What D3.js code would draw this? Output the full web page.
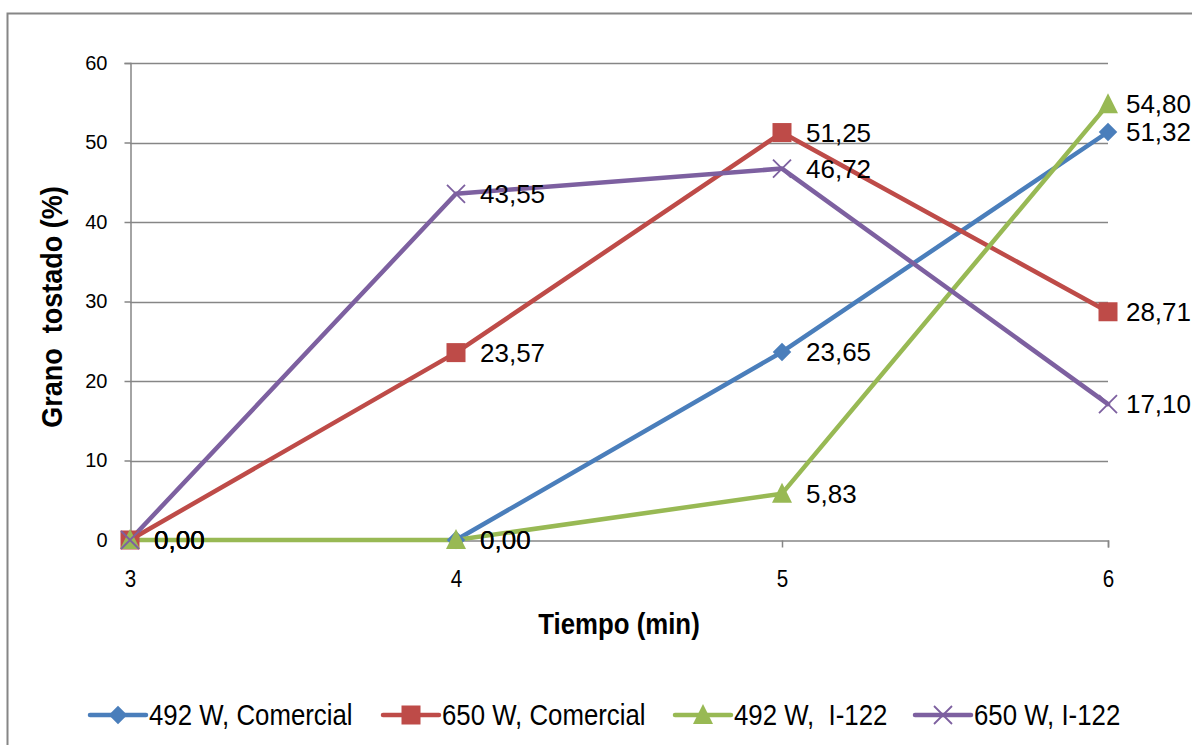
<!DOCTYPE html>
<html>
<head>
<meta charset="utf-8">
<script src="https://cdn.jsdelivr.net/npm/d3@7/dist/d3.min.js"></script>
<style>
  html, body { margin: 0; padding: 0; background: #fff; }
  svg { display: block; font-family: "Liberation Sans", Arial, sans-serif; }
</style>
</head>
<body>
<svg id="chart" width="1192" height="745"></svg>
<script>
// Roasted grain percentage vs. time, per power level and variety
const tiempos = [3, 4, 5, 6];
const yTicks = [0, 10, 20, 30, 40, 50, 60];
const serieNombres = ["492 W, Comercial", "650 W, Comercial", "492 W,  I-122", "650 W, I-122"];
const comercial492 = [null, 0.00, 23.65, 51.32];
const comercial650 = [0.00, 23.57, 51.25, 28.71];
const i122_492 = [0.00, 0.00, 5.83, 54.80];
const i122_650 = [0.00, 43.55, 46.72, 17.10];
const colores = ["#4a7ebb", "#be4b48", "#98b954", "#7d60a0"];
const simbolos = ["diamond", "square", "triangle", "cross"];

const series = [comercial492, comercial650, i122_492, i122_650].map((vals, i) => ({
  name: serieNombres[i], color: colores[i], marker: simbolos[i],
  points: vals.map((v, j) => ({ x: tiempos[j], y: v })).filter(d => d.y !== null)
}));

const FONT = "Liberation Sans, Arial, sans-serif";
const W = 1192;
const NARROW = 0.86;   // horizontal squeeze used for titles, x ticks and legend text
const svg = d3.select("#chart");

// chart frame
svg.append("rect").attr("x", 7.5).attr("y", 13.5).attr("width", 1200).attr("height", 760)
  .attr("fill", "none").attr("stroke", "#868686").attr("stroke-width", 2);

const x = d3.scaleLinear().domain([3, 6]).range([130, 1108]);
const y = d3.scaleLinear().domain([0, 60]).range([540, 63]);

// horizontal gridlines
svg.append("g").selectAll("line").data(yTicks.filter(t => t > 0)).join("line")
  .attr("x1", 130).attr("x2", 1108)
  .attr("y1", d => Math.round(y(d)) + 0.5).attr("y2", d => Math.round(y(d)) + 0.5)
  .attr("stroke", "#868686").attr("stroke-width", 1.5);

// y axis
const yAxis = svg.append("g").attr("transform", "translate(130.5,0)")
  .call(d3.axisLeft(y).tickValues(yTicks).tickSize(6).tickPadding(17).tickFormat(d3.format("d")));
yAxis.select(".domain").attr("stroke", "#868686").attr("stroke-width", 1.5);
yAxis.selectAll(".tick line").attr("stroke", "#868686").attr("stroke-width", 1.5);
yAxis.selectAll("text").attr("font-size", 20).attr("fill", "#000").attr("font-family", FONT);

// x axis (tick labels are squeezed horizontally)
const xAxis = svg.append("g").attr("transform", "translate(0,540.5)")
  .call(d3.axisBottom(x).tickValues(tiempos).tickSize(7).tickFormat(() => ""));
xAxis.select(".domain").attr("stroke", "#868686").attr("stroke-width", 1.5);
xAxis.selectAll(".tick line").attr("stroke", "#868686").attr("stroke-width", 1.5);
xAxis.selectAll(".tick").append("text")
  .attr("transform", `translate(0,46) scale(${NARROW},1)`)
  .attr("text-anchor", "middle").attr("font-size", 24).attr("fill", "#000")
  .attr("font-family", FONT).text(d => d3.format("d")(d));

// axis titles
svg.append("text").attr("transform", `translate(619,634) scale(${NARROW},1)`)
  .attr("text-anchor", "middle").attr("font-size", 30).attr("font-weight", "bold")
  .text("Tiempo (min)");
svg.append("text").attr("transform", `translate(62,307) rotate(-90) scale(${NARROW + 0.04},1)`)
  .attr("text-anchor", "middle").attr("font-size", 30).attr("font-weight", "bold")
  .style("white-space", "pre").text("Grano  tostado (%)");

// marker drawing
function drawMarker(g, type, color, size) {
  if (type === "diamond") {
    const s = size * 0.58;
    g.append("path").attr("d", `M0,${-s}L${s},0L0,${s}L${-s},0Z`).attr("fill", color);
  } else if (type === "square") {
    const s = size / 2;
    g.append("rect").attr("x", -s).attr("y", -s).attr("width", size).attr("height", size).attr("fill", color);
  } else if (type === "triangle") {
    const s = size / 2;
    g.append("path").attr("d", `M0,${-s - 2}L${s + 1},${s}L${-s - 1},${s}Z`).attr("fill", color);
  } else if (type === "cross") {
    const s = size / 2;
    g.append("path").attr("d", `M${-s},${-s}L${s},${s}M${-s},${s}L${s},${-s}`)
      .attr("stroke", color).attr("stroke-width", 1.8).attr("fill", "none");
  }
}

const line = d3.line().x(d => x(d.x)).y(d => y(d.y));
const fmt = v => v.toFixed(2).replace(".", ",");
const markerSize = { diamond: 16, square: 19, triangle: 18, cross: 18 };

// lines
series.forEach(s => {
  svg.append("path").datum(s.points).attr("d", line)
    .attr("fill", "none").attr("stroke", s.color).attr("stroke-width", 4.5)
    .attr("stroke-linejoin", "round").attr("stroke-linecap", "round");
});
// markers
series.forEach(s => {
  s.points.forEach(p => {
    const g = svg.append("g").attr("transform", `translate(${x(p.x)},${y(p.y)})`);
    drawMarker(g, s.marker, s.color, markerSize[s.marker]);
  });
});
// data labels, right of each point, kept inside the canvas
series.forEach(s => {
  s.points.forEach(p => {
    const t = svg.append("text").attr("x", x(p.x) + 24).attr("y", y(p.y) + 9)
      .attr("font-size", 26).attr("fill", "#000").text(fmt(p.y));
    const len = t.node().getComputedTextLength();
    if (x(p.x) + 24 + len > W - 1) t.attr("x", W - 1 - len);
  });
});

// legend
const legendX = [90, 383, 675, 915];
series.forEach((s, i) => {
  const g = svg.append("g").attr("transform", `translate(${legendX[i]},715)`);
  g.append("line").attr("x1", 0).attr("x2", 56).attr("stroke", s.color)
    .attr("stroke-width", 4.5).attr("stroke-linecap", "round");
  const m = g.append("g").attr("transform", "translate(28,0)");
  drawMarker(m, s.marker, s.color, markerSize[s.marker]);
  g.append("text").attr("transform", `translate(59,10) scale(${NARROW},1)`)
    .attr("font-size", 30).style("white-space", "pre").text(s.name);
});
</script>
</body>
</html>
